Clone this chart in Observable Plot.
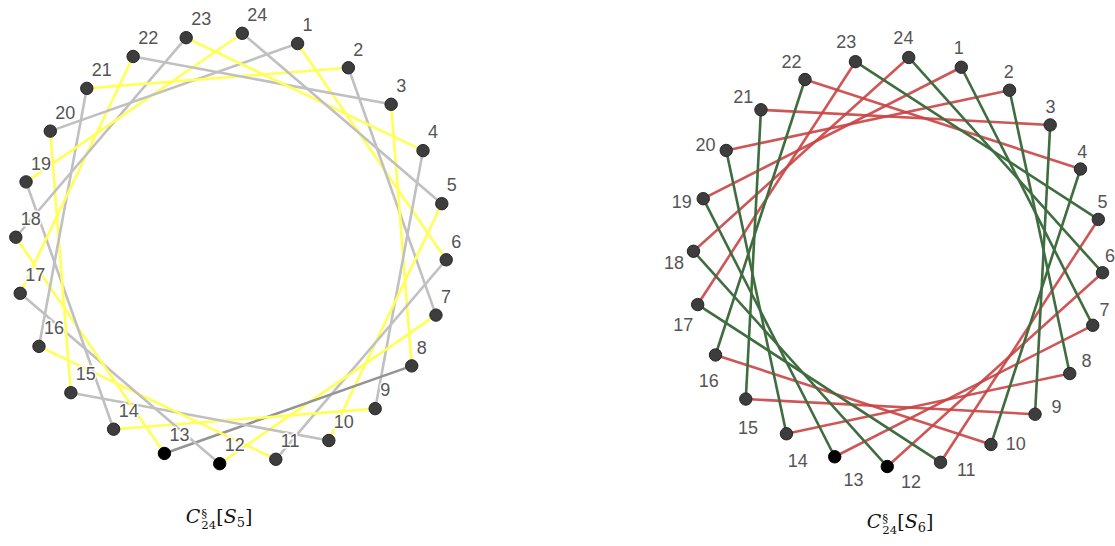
<!DOCTYPE html>
<html>
<head>
<meta charset="utf-8">
<script src="https://cdn.jsdelivr.net/npm/d3@7"></script>
<script src="https://cdn.jsdelivr.net/npm/@observablehq/plot@0.6"></script>
<style>
  html, body { margin: 0; padding: 0; background: #fff; }
  #wrap { position: relative; width: 1115px; height: 546px; overflow: hidden; }
  .panel { position: absolute; top: 0; overflow: visible; }
  .cap { position: absolute; font-family: "DejaVu Serif", "Liberation Serif", serif; font-size: 19px; color: #111; white-space: nowrap; transform: translateX(-50%); }
  .cap i { font-style: italic; }
  .ss { display: inline-block; vertical-align: -0.55em; line-height: 1.1; font-size: 0.62em; text-align: left; margin-left: 1px; }
  .ss span { display: block; }
  .sb { font-size: 0.68em; vertical-align: -0.3em; }
</style>
</head>
<body>
<div id="wrap"></div>
<script>
// ---- data ----
const nodeIds = [1,2,3,4,5,6,7,8,9,10,11,12,13,14,15,16,17,18,19,20,21,22,23,24];
const blackNodes = [12, 13];

// left graph C_24[S_5]: [from, to, colour key]
const leftEdges = [
  [1,6,"yellow"],[2,7,"gray"],[3,8,"yellow"],[4,9,"gray"],[5,10,"yellow"],[6,11,"gray"],
  [7,12,"yellow"],[8,13,"dark"],[9,14,"yellow"],[10,15,"gray"],[11,16,"yellow"],[12,17,"gray"],
  [13,18,"yellow"],[14,19,"gray"],[15,20,"yellow"],[16,21,"gray"],[17,22,"yellow"],[18,23,"gray"],
  [19,24,"yellow"],[20,1,"gray"],[21,2,"yellow"],[22,3,"gray"],[23,4,"yellow"],[24,5,"gray"]
];

// right graph C_24[S_6]
const rightEdges = [
  [5,11,"red"],[6,12,"red"],[7,13,"red"],[8,14,"red"],[9,15,"red"],[10,16,"red"],
  [17,23,"red"],[18,24,"red"],[19,1,"red"],[20,2,"red"],[21,3,"red"],[22,4,"red"],
  [11,17,"green"],[12,18,"green"],[13,19,"green"],[14,20,"green"],[15,21,"green"],[16,22,"green"],
  [23,5,"green"],[24,6,"green"],[1,7,"green"],[2,8,"green"],[3,9,"green"],[4,10,"green"]
];

const edgeColors = {yellow: "#ffff55", gray: "#c0c0c0", dark: "#949494", red: "#c94444", green: "#3f6d3f"};

// ---- layout (circular) ----
const rot = 3, step = 15;
const ang = k => (rot + step * k) * Math.PI / 180;
const pos = k => ({x: Math.sin(ang(k)), y: Math.cos(ang(k))});
const nodes = nodeIds.map(k => ({id: k, ...pos(k), black: blackNodes.includes(k)}));
const edgeRows = es => es.map(([a, b, c]) => ({x1: pos(a).x, y1: pos(a).y, x2: pos(b).x, y2: pos(b).y, c}));

const wrap = document.getElementById("wrap");

function graph({edges, width, cx, cy, r, labelMarks}) {
  return Plot.plot({
    width, height: 500, margin: 0,
    x: {domain: [-1, 1], range: [cx - r, cx + r], axis: null},
    y: {domain: [-1, 1], range: [cy + r, cy - r], axis: null},
    marks: [
      Plot.link(edgeRows(edges), {x1: "x1", y1: "y1", x2: "x2", y2: "y2",
        stroke: d => edgeColors[d.c], strokeWidth: 2.6, strokeOpacity: d => d.c === "red" ? 0.9 : 1}),
      Plot.dot(nodes, {x: "x", y: "y", r: 6.2, fill: d => d.black ? "#000" : "#3d3d3d", stroke: d => d.black ? "#000" : "#262626", strokeWidth: 1}),
      ...labelMarks
    ]
  });
}

// left: labels to the upper right of nodes
const left = graph({
  edges: leftEdges, width: 557, cx: 230.5, cy: 248, r: 215.5,
  labelMarks: [Plot.text(nodes, {x: "x", y: "y", text: d => String(d.id), textAnchor: "start", dx: 5, dy: -18,
    fontSize: 18, fill: "#555", fontFamily: "Liberation Sans, Arial, sans-serif", stroke: "white", strokeWidth: 3})]
});
left.classList.add("panel");
left.style.left = "0px";
wrap.appendChild(left);

// right: labels outside the ring on a slightly offset ellipse, slightly rotated
const rR = 204.8, lRx = 218, lRy = 223, lShiftX = -6, lShiftY = 1.5;
const rightLabels = nodes.map(d => {
  const a = rot + step * d.id;
  const a2 = (a - 4 + 4 * Math.cos(a * Math.PI / 180)) * Math.PI / 180;
  return {id: d.id, x: (lShiftX + Math.sin(a2) * lRx) / rR, y: (lShiftY + Math.cos(a2) * lRy) / rR};
});
const right = graph({
  edges: rightEdges, width: 558, cx: 897.5 - 557, cy: 261.5, r: rR,
  labelMarks: [Plot.text(rightLabels, {x: "x", y: "y", text: d => String(d.id), textAnchor: "middle",
    fontSize: 18, fill: "#555", fontFamily: "Liberation Sans, Arial, sans-serif"})]
});
right.classList.add("panel");
right.style.left = "557px";
wrap.appendChild(right);

// captions
function caption(n, cxp, top) {
  const d = document.createElement("div");
  d.className = "cap";
  d.style.left = cxp + "px";
  d.style.top = top + "px";
  d.innerHTML = `<i>C</i><span class="ss"><span>§</span><span>24</span></span>[<i>S</i><span class="sb">${n}</span>]`;
  wrap.appendChild(d);
}
caption(5, 219, 505);
caption(6, 900, 510);
</script>
</body>
</html>
